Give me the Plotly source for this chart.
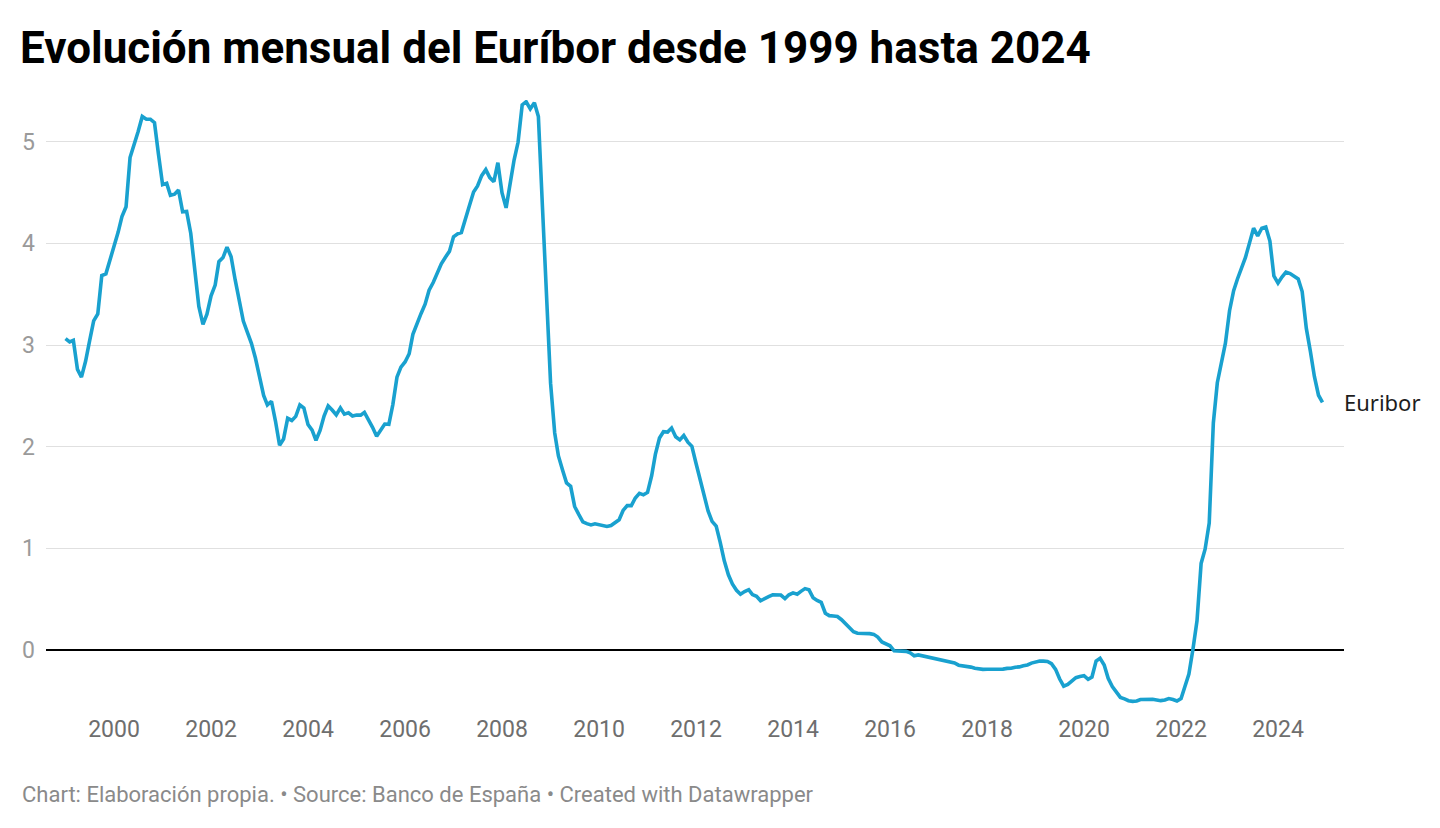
import plotly.graph_objects as go
import pandas as pd

years = list(range(1999, 2025))
euribor_by_year = {
    1999: [3.062, 3.030, 3.046, 2.760, 2.684, 2.840, 3.038, 3.237, 3.306, 3.683, 3.700, 3.832],
    2000: [3.945, 4.108, 4.264, 4.360, 4.844, 4.961, 5.100, 5.248, 5.221, 5.221, 5.187, 4.876],
    2001: [4.577, 4.590, 4.473, 4.484, 4.525, 4.311, 4.314, 4.099, 3.765, 3.379, 3.203, 3.303],
    2002: [3.484, 3.590, 3.820, 3.860, 3.963, 3.869, 3.645, 3.440, 3.236, 3.126, 3.017, 2.872],
    2003: [2.705, 2.504, 2.411, 2.447, 2.252, 2.014, 2.076, 2.279, 2.258, 2.298, 2.410, 2.381],
    2004: [2.218, 2.163, 2.063, 2.159, 2.301, 2.401, 2.361, 2.313, 2.382, 2.320, 2.333, 2.302],
    2005: [2.312, 2.310, 2.337, 2.267, 2.191, 2.103, 2.168, 2.223, 2.220, 2.414, 2.684, 2.783],
    2006: [2.833, 2.914, 3.105, 3.221, 3.308, 3.401, 3.539, 3.615, 3.715, 3.799, 3.864, 3.921],
    2007: [4.064, 4.094, 4.106, 4.253, 4.373, 4.505, 4.564, 4.666, 4.725, 4.647, 4.607, 4.793],
    2008: [4.498, 4.349, 4.590, 4.820, 4.994, 5.361, 5.393, 5.323, 5.384, 5.248, 4.350, 3.452],
    2009: [2.622, 2.135, 1.909, 1.771, 1.644, 1.610, 1.412, 1.334, 1.261, 1.243, 1.231, 1.242],
    2010: [1.232, 1.225, 1.215, 1.225, 1.249, 1.281, 1.373, 1.421, 1.420, 1.495, 1.541, 1.526],
    2011: [1.550, 1.714, 1.924, 2.086, 2.147, 2.144, 2.183, 2.097, 2.067, 2.110, 2.044, 2.004],
    2012: [1.837, 1.678, 1.499, 1.368, 1.266, 1.219, 1.061, 0.877, 0.740, 0.650, 0.588, 0.549],
    2013: [0.575, 0.594, 0.545, 0.528, 0.484, 0.507, 0.525, 0.542, 0.543, 0.541, 0.506, 0.543],
    2014: [0.562, 0.549, 0.577, 0.604, 0.592, 0.513, 0.488, 0.469, 0.362, 0.338, 0.335, 0.329],
    2015: [0.298, 0.255, 0.212, 0.180, 0.165, 0.163, 0.167, 0.161, 0.154, 0.128, 0.079, 0.059],
    2016: [0.042, -0.008, -0.012, -0.010, -0.013, -0.028, -0.056, -0.048, -0.057, -0.069, -0.074, -0.080],
    2017: [-0.095, -0.106, -0.110, -0.119, -0.127, -0.149, -0.154, -0.156, -0.168, -0.180, -0.189, -0.190],
    2018: [-0.189, -0.191, -0.191, -0.190, -0.188, -0.181, -0.180, -0.169, -0.166, -0.154, -0.147, -0.129],
    2019: [-0.116, -0.108, -0.109, -0.112, -0.134, -0.190, -0.283, -0.356, -0.339, -0.304, -0.272, -0.261],
    2020: [-0.253, -0.288, -0.266, -0.108, -0.081, -0.147, -0.279, -0.359, -0.415, -0.466, -0.481, -0.499],
    2021: [-0.505, -0.501, -0.487, -0.484, -0.481, -0.484, -0.491, -0.498, -0.492, -0.477, -0.487, -0.502],
    2022: [-0.477, -0.335, -0.237, 0.013, 0.287, 0.852, 0.992, 1.249, 2.233, 2.629, 2.828, 3.018],
    2023: [3.337, 3.534, 3.647, 3.757, 3.862, 4.007, 4.149, 4.073, 4.149, 4.160, 4.022, 3.679],
    2024: [3.609, 3.671, 3.718, 3.703, 3.680, 3.650, 3.526, 3.166, 2.936, 2.691, 2.506, 2.436],
}

dates = []
values = []
for y in years:
    for m, v in enumerate(euribor_by_year[y], start=1):
        dates.append(pd.Timestamp(year=y, month=m, day=1))
        values.append(v)

series_name = "Euribor"
y_ticks = [0, 1, 2, 3, 4, 5]
title_text = "Evolución mensual del Euríbor desde 1999 hasta 2024"
footer_text = "Chart: Elaboración propia. • Source: Banco de España • Created with Datawrapper"

line_color = "#19a1cf"

W, H = 1440, 828
L, R, T, B = 38, 104, 92, 126
plot_h = H - T - B
plot_w = W - L - R

fig = go.Figure()
fig.add_trace(go.Scatter(
    x=dates, y=values, mode="lines", name=series_name,
    line=dict(color=line_color, width=3.6), hoverinfo="x+y",
))

# direct line label
fig.add_annotation(
    x=dates[-1], y=values[-1], xref="x", yref="y",
    text=series_name, showarrow=False, xanchor="left", yanchor="middle",
    xshift=20, font=dict(family="Noto Sans, Roboto", size=22, color="#1d1d1d"),
)

# footer
fig.add_annotation(
    x=(12 - L) / plot_w, y=(H - B - 786.5) / plot_h, xref="paper", yref="paper",
    xanchor="left", yanchor="middle", showarrow=False, text=footer_text,
    font=dict(family="Roboto", size=22, color="#8a8a8a"),
)

fig.update_layout(
    width=W, height=H,
    margin=dict(l=L, r=R, t=T, b=B),
    paper_bgcolor="white", plot_bgcolor="white",
    showlegend=False,
    font=dict(family="Roboto"),
    title=dict(
        text="<b>" + title_text + "</b>",
        x=12 / W, xref="container", xanchor="left",
        y=1 - 39.5 / H, yref="container", yanchor="middle",
        font=dict(family="Roboto", size=44, color="#000000"),
    ),
)

fig.update_xaxes(
    type="date",
    range=["1998-08-07", "2025-05-12"],
    tick0="2000-01-01", dtick="M24", tickformat="%Y",
    showgrid=False, zeroline=False, showline=False,
    ticks="", ticklabelstandoff=3,
    tickfont=dict(family="Roboto", size=23, color="#6e6e6e"),
)
fig.update_yaxes(
    range=[-0.59, 5.41],
    tickvals=y_ticks, ticktext=[str(t) for t in y_ticks],
    showgrid=True, gridcolor="#e0e0e0", gridwidth=1,
    zeroline=True, zerolinecolor="#000000", zerolinewidth=2,
    tickfont=dict(family="Roboto", size=23, color="#9a9a9a"),
    ticks="", ticklabelstandoff=10,
)

fig.write_html("out.html")
